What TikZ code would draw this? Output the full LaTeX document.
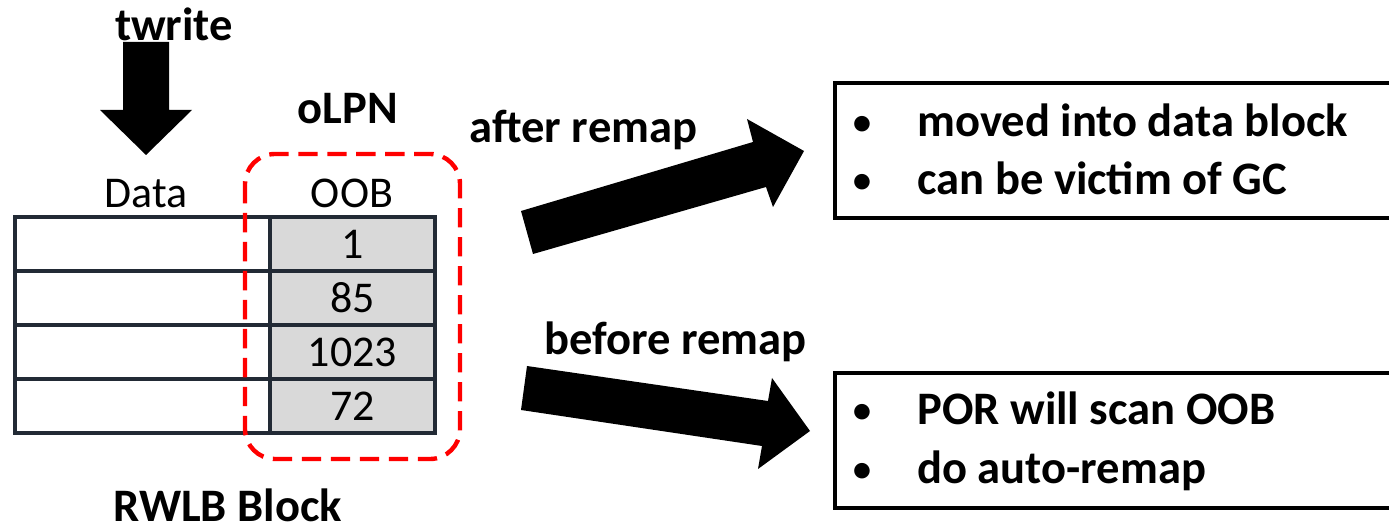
\documentclass[tikz,border=0pt]{standalone}
\usepackage{fontspec}
\setmainfont{Carlito}
\definecolor{cgrid}{RGB}{34,42,53}
\definecolor{coob}{RGB}{217,217,217}
\definecolor{cmark}{RGB}{255,0,0}

\begin{document}
\begin{tikzpicture}[x=0.02cm, y=-0.02cm,
    bold/.style={font=\fontsize{26.5}{30}\selectfont\bfseries, inner sep=0pt},
    plain/.style={font=\fontsize{25}{30}\selectfont, inner sep=0pt},
    cell/.style={draw=cgrid, line width=1.8pt, minimum width=5.1cm, minimum height=1.08cm, inner sep=0pt, outer sep=0pt},
    oobcell/.style={cell, fill=coob, minimum width=3.3cm, font=\fontsize{25}{30}\selectfont},
    note/.style={draw=black, line width=1.8pt, anchor=north west, minimum width=11.3cm, minimum height=2.7cm, inner sep=0pt, outer sep=0pt}]
    \useasboundingbox (0,0) rectangle (1389,526);
    % block with data and oob columns
    \foreach \v [count=\i] in {1,85,1023,72}{
      \node[cell] (d\i) at (142.5,190+54*\i) {};
      \node[oobcell] (o\i) at (352.5,190+54*\i) {\v};
    }
    \node[plain, anchor=base] (datahead) at (146,208) {Data};
    \node[plain, anchor=base] (oobhead) at (352,208) {OOB};
    \node[bold, anchor=base] (olpn) at (348,124) {oLPN};
    \node[bold, anchor=base] (rwlb) at (227.5,521) {RWLB Block};
    % oob region
    \draw[cmark, line width=2.5pt, dash pattern=on 11pt off 5.5pt, rounded corners=0.6cm] (245,154) rectangle (460,459);
    % write arrow
    \node[bold, anchor=base] (twrite) at (174,41) {twrite};
    \fill (123,42) -- (169,42) -- (169,110) -- (192,110) -- (146,155) -- (100,110) -- (123,110) -- cycle;
    % after remap
    \node[bold, anchor=base] (after) at (583.5,143) {after remap};
    \fill (521,211) -- (753,142) -- (747,119) -- (804,151) -- (773,207) -- (766,187) -- (533,254) -- cycle;
    \node[note] (gcnote) at (835,83) {};
    \node[plain, anchor=base] at (862,137) {\textbullet};
    \node[bold, anchor=base west] (gc1) at (917,137) {moved into data block};
    \node[plain, anchor=base] at (862,195) {\textbullet};
    \node[bold, anchor=base west] (gc2) at (917,195) {can be victim of GC};
    % before remap
    \node[bold, anchor=base] (before) at (675.5,355) {before remap};
    \fill (527,366) -- (768,401) -- (772,378) -- (810,431) -- (758,469) -- (762,446) -- (521,410) -- cycle;
    \node[note] (pornote) at (835,373) {};
    \node[plain, anchor=base] at (862,425) {\textbullet};
    \node[bold, anchor=base west] (por1) at (917,425) {POR will scan OOB};
    \node[plain, anchor=base] at (862,483) {\textbullet};
    \node[bold, anchor=base west] (por2) at (917,483) {do auto-remap};
\end{tikzpicture}
\end{document}
